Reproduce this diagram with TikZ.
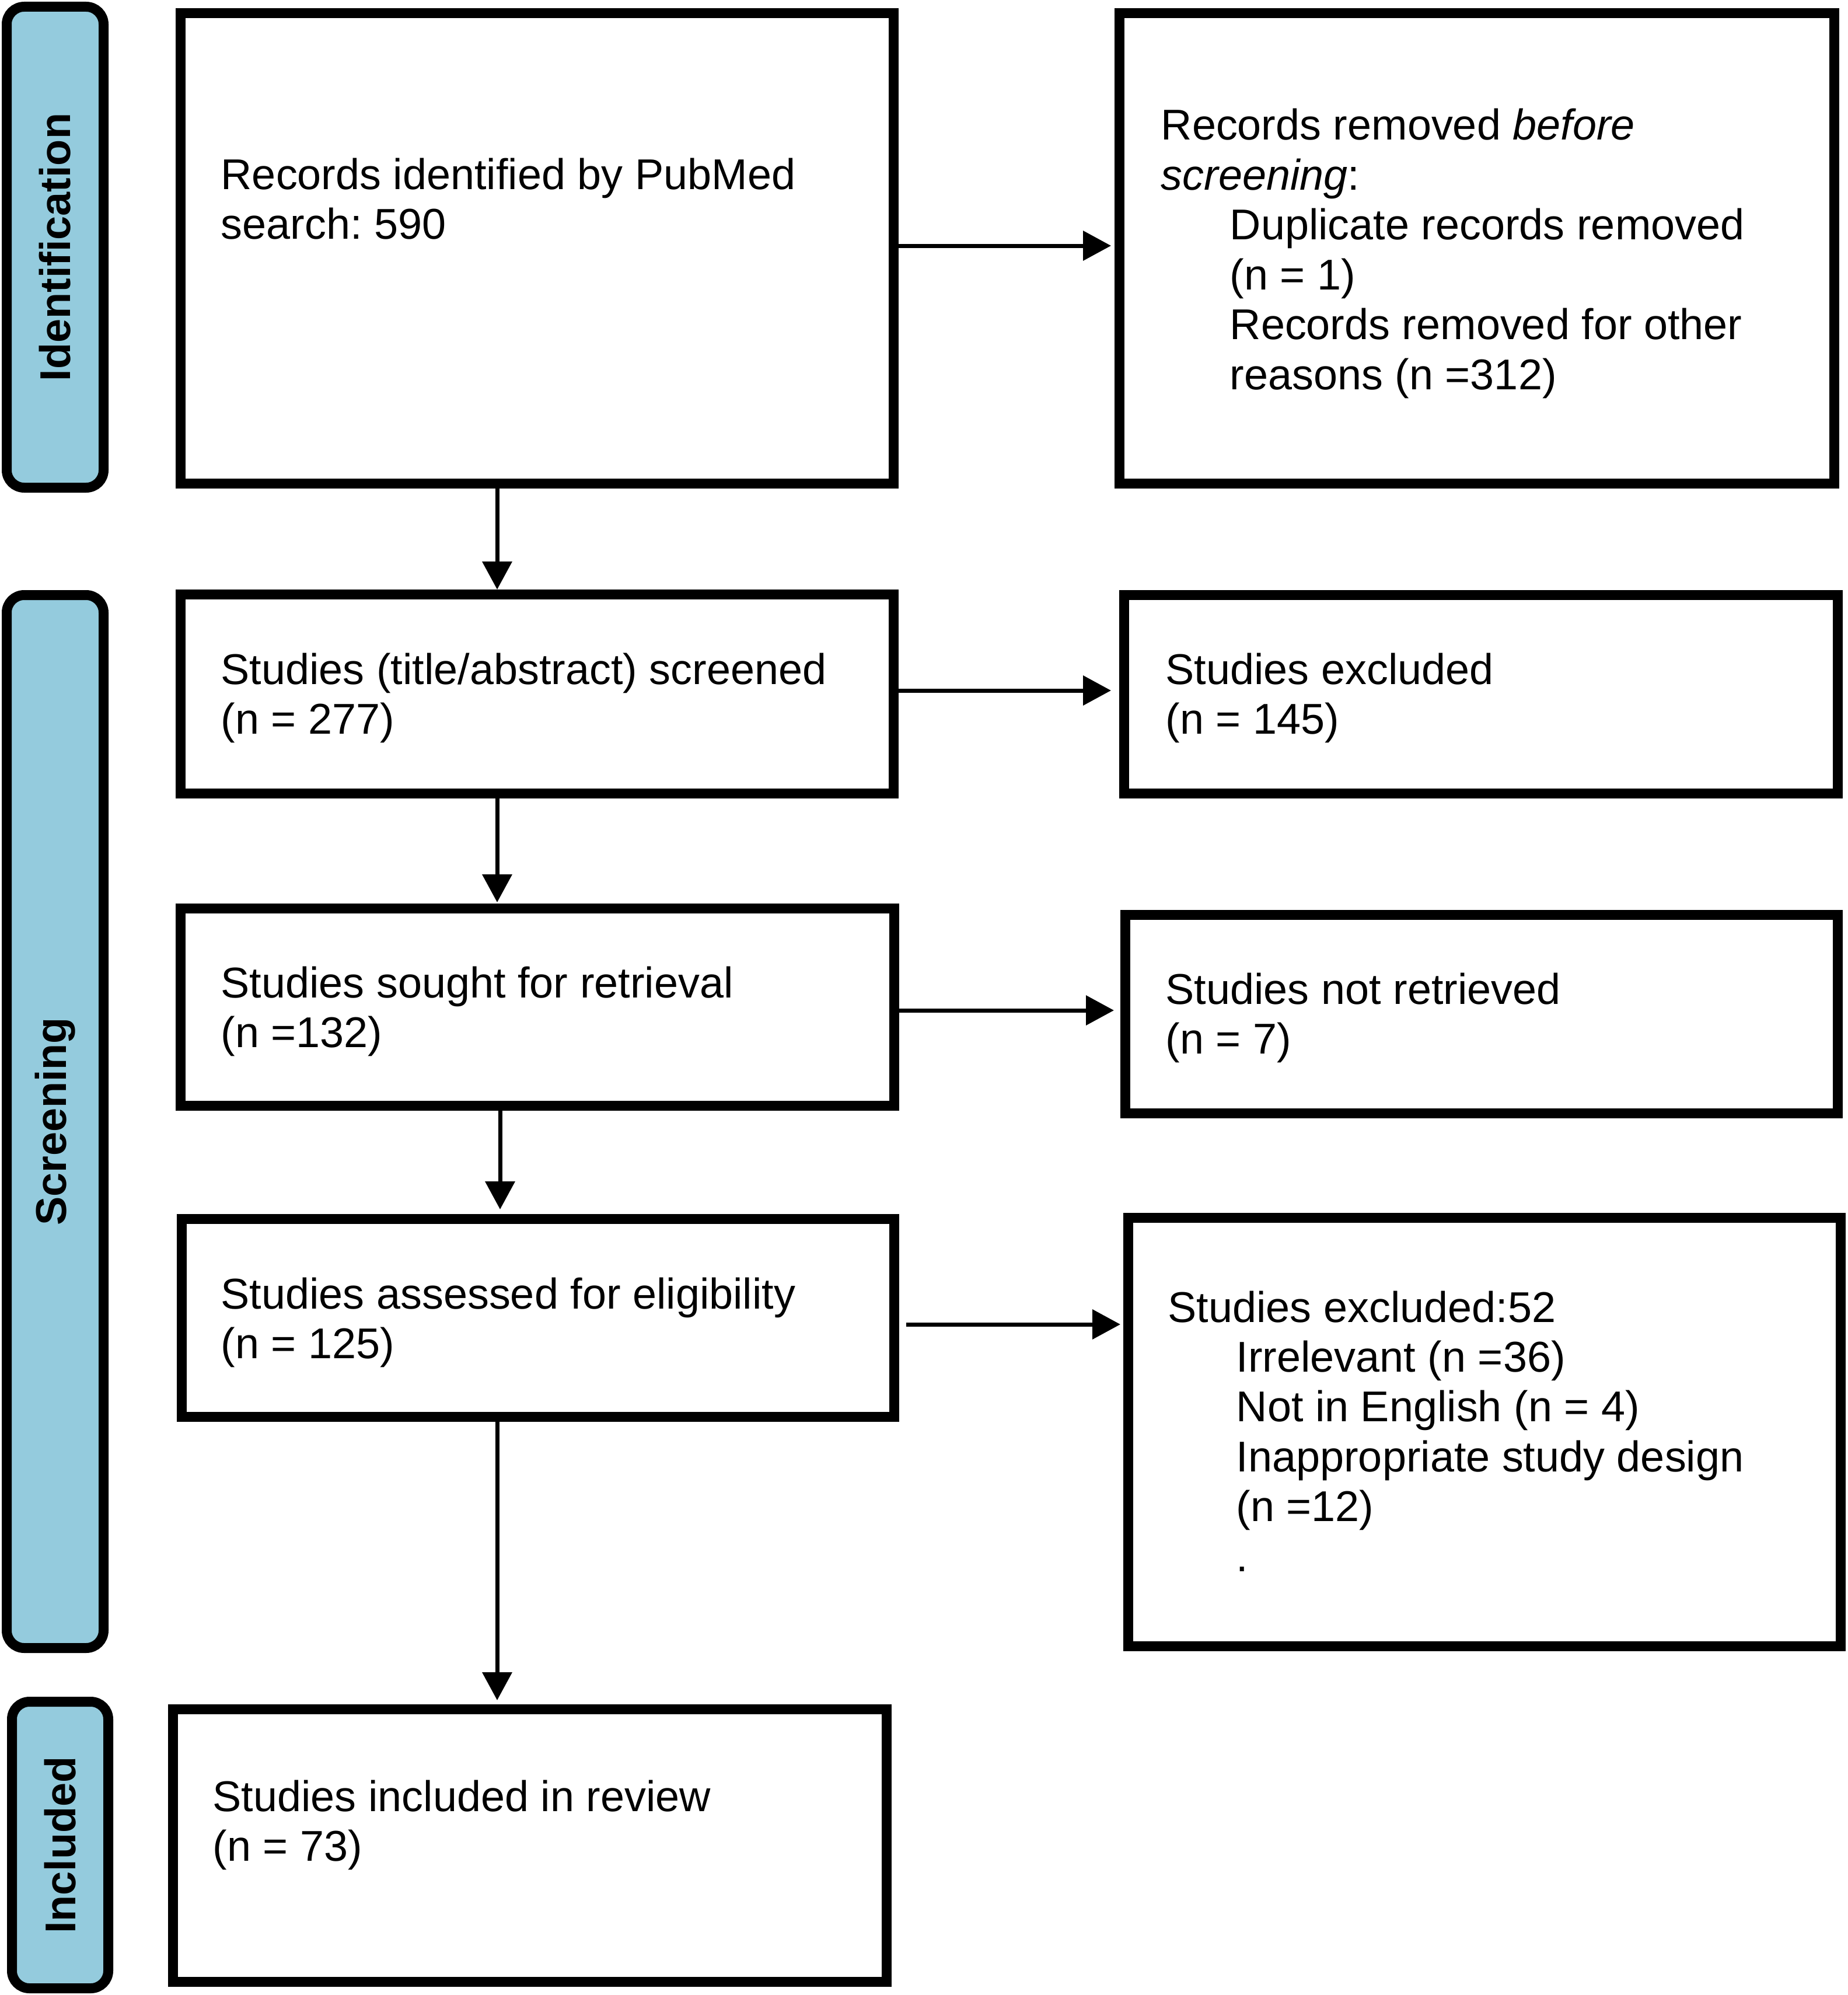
\documentclass[tikz,border=0pt]{standalone}
\usepackage{fontspec}
\setmainfont{Liberation Sans}
\usetikzlibrary{arrows.meta}
\definecolor{phaseblue}{RGB}{148,203,221}
\frenchspacing
\begin{document}
\begin{tikzpicture}[x=1cm,y=1cm,
  box/.style={draw, line width=0.17cm, inner sep=0pt, rectangle},
  phase/.style={draw, line width=0.17cm, fill=phaseblue, rounded corners=0.3cm, inner sep=0pt, rectangle},
  txt/.style={anchor=base west, inner sep=0pt, font=\fontsize{21}{24.3}\selectfont},
  lbl/.style={rotate=90, inner sep=0pt, font=\fontsize{21}{24}\selectfont\bfseries},
  arr/.style={line width=0.07cm, -{Triangle[length=0.48cm,width=0.5cm]}}
]
\useasboundingbox (0,0) rectangle (31.66,-34.18);

% phase bars
\node[phase, minimum width=1.66cm, minimum height=8.24cm] (idbar) at (0.945,-4.235) {};
\node[phase, minimum width=1.66cm, minimum height=18.04cm] (scbar) at (0.945,-19.215) {};
\node[phase, minimum width=1.65cm, minimum height=4.91cm] (inbar) at (1.03,-31.61) {};
\node[lbl] (idlbl) at (idbar.center) {Identification};
\node[lbl] (sclbl) at (scbar.center) {Screening};
\node[lbl] (inlbl) at (inbar.center) {Included};

% boxes
\node[box, minimum width=12.22cm, minimum height=8.06cm] (b1) at (9.205,-4.255) {};
\node[box, minimum width=12.25cm, minimum height=8.06cm] (r1) at (25.31,-4.255) {};
\node[box, minimum width=12.22cm, minimum height=3.41cm] (b2) at (9.205,-11.89) {};
\node[box, minimum width=12.23cm, minimum height=3.40cm] (r2) at (25.38,-11.895) {};
\node[box, minimum width=12.23cm, minimum height=3.38cm] (b3) at (9.21,-17.255) {};
\node[box, minimum width=12.21cm, minimum height=3.40cm] (r3) at (25.39,-17.375) {};
\node[box, minimum width=12.21cm, minimum height=3.39cm] (b4) at (9.22,-22.58) {};
\node[box, minimum width=12.21cm, minimum height=7.34cm] (r4) at (25.44,-24.535) {};
\node[box, minimum width=12.23cm, minimum height=4.67cm] (b5) at (9.08,-31.62) {};

% texts
\node[txt] (t1) at (3.78,-3.24) {\parbox[t]{11cm}{Records identified by PubMed\\search: 590}};
\node[txt] (tr1) at (19.89,-2.40) {\parbox[t]{11.5cm}{Records removed \textit{before}\\\textit{screening}:\\
\hspace*{1.18cm}Duplicate records removed\\\hspace*{1.18cm}(n = 1)\\
\hspace*{1.18cm}Records removed for other\\\hspace*{1.18cm}reasons (n =312)}};
\node[txt] (t2) at (3.78,-11.72) {\parbox[t]{11.5cm}{Studies (title/abstract) screened\\(n = 277)}};
\node[txt] (tr2) at (19.97,-11.72) {\parbox[t]{11cm}{Studies excluded\\(n = 145)}};
\node[txt] (t3) at (3.78,-17.09) {\parbox[t]{11cm}{Studies sought for retrieval\\(n =132)}};
\node[txt] (tr3) at (19.97,-17.20) {\parbox[t]{11cm}{Studies not retrieved\\(n = 7)}};
\node[txt] (t4) at (3.78,-22.42) {\parbox[t]{11cm}{Studies assessed for eligibility\\(n = 125)}};
\node[txt] (tr4) at (20.01,-22.65) {\parbox[t]{11.5cm}{Studies excluded:52\\
\hspace*{1.17cm}Irrelevant (n =36)\\\hspace*{1.17cm}Not in English (n = 4)\\
\hspace*{1.17cm}Inappropriate study design\\\hspace*{1.17cm}(n =12)\\\hspace*{1.17cm}.}};
\node[txt] (t5) at (3.64,-31.03) {\parbox[t]{11cm}{Studies included in review\\(n = 73)}};

% arrow guide coordinates
\coordinate (ya1) at (0,-4.21);
\coordinate (ya3) at (0,-11.83);
\coordinate (ya5) at (0,-17.31);
\coordinate (ya7) at (0,-22.69);
\coordinate (xa2) at (8.52,0);
\coordinate (xa6) at (8.57,0);

% connectors
\draw[arr, shorten >=0.06cm] (b1.east |- ya1) -- (r1.west |- ya1);
\draw[arr, shorten >=0.14cm] (b2.east |- ya3) -- (r2.west |- ya3);
\draw[arr, shorten >=0.11cm] (b3.east |- ya5) -- (r3.west |- ya5);
\draw[arr, shorten <=0.12cm, shorten >=0.05cm] (b4.east |- ya7) -- (r4.west |- ya7);
\draw[arr] (b1.south -| xa2) -- (b2.north -| xa2);
\draw[arr, shorten >=0.02cm] (b2.south -| xa2) -- (b3.north -| xa2);
\draw[arr, shorten >=0.08cm] (b3.south -| xa6) -- (b4.north -| xa6);
\draw[arr, shorten >=0.07cm] (b4.south -| xa2) -- (b5.north -| xa2);
\end{tikzpicture}
\end{document}
